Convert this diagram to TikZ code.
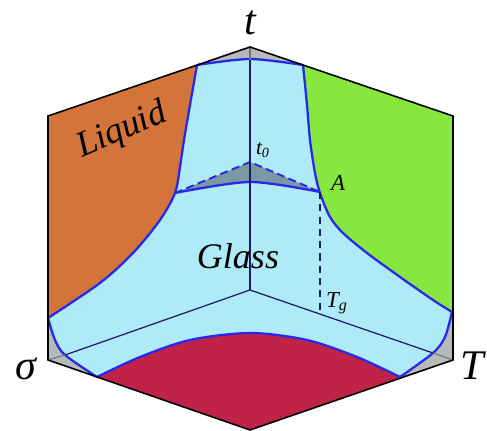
\documentclass[tikz,border=0pt]{standalone}
\usepackage{fontspec}
\setmainfont{Liberation Serif}
\usepackage{xcolor}
\usetikzlibrary{calc}
\definecolor{liquidc}{RGB}{211,116,58}
\definecolor{solidc}{RGB}{134,232,62}
\definecolor{redc}{RGB}{192,34,72}
\definecolor{glassc}{RGB}{174,234,248}
\definecolor{bluec}{RGB}{40,40,235}
\definecolor{cornerc}{RGB}{182,186,186}
\definecolor{slatec}{RGB}{122,152,162}
\definecolor{axisc}{RGB}{25,30,100}
\tikzset{
  edge/.style     = {draw = black, line width = 0.9pt, line join = miter},
  bound/.style    = {draw = bluec, line width = 1.3pt, line join = round},
  axisline/.style = {draw = axisc, line width = 0.7pt},
  tipline/.style  = {draw = black!55, line width = 0.6pt},
  biglab/.style   = {inner sep = 0pt, font = \itshape\fontsize{24}{28}\selectfont},
  midlab/.style   = {inner sep = 0pt, font = \itshape\fontsize{20.5}{24}\selectfont},
  smalllab/.style = {inner sep = 0pt, font = \itshape\fontsize{13}{15}\selectfont}
}

\begin{document}
\begin{tikzpicture}[x=0.02cm, y=-0.02cm]
\useasboundingbox (0,0) rectangle (487,431);

% cube corners
\coordinate (O)  at (250,290);
\coordinate (tt) at (250,47);
\coordinate (ss) at (48,360);
\coordinate (TT) at (453,360);
\coordinate (tl) at (48,116);
\coordinate (tr) at (453,116);
\coordinate (bt) at (250,430);

% three back faces
\fill[liquidc] (O) -- (tt) -- (tl) -- (ss) -- cycle;
\fill[solidc] (O) -- (tt) -- (tr) -- (TT) -- cycle;
\fill[redc] (O) -- (ss) -- (bt) -- (TT) -- cycle;

% gray corners
\fill[cornerc] (197,65) -- (tt) -- (303,65) -- cycle;
\fill[cornerc] (48,318) -- (ss) -- (97,377) -- cycle;
\fill[cornerc] (452,312) -- (TT) -- (400,377) -- cycle;

% glass surface
\filldraw[fill = glassc, bound]
  plot[smooth] coordinates {(197,65) (250,59) (303,65)}
  -- plot[smooth] coordinates {(303,65) (307,105) (310,140) (315,173) (320,193) (330,217) (343,233) (367,253) (400,277) (433,300) (452,312)}
  -- plot[smooth] coordinates {(452,312) (445,337) (433,353) (400,377)}
  -- plot[smooth] coordinates {(400,377) (357,357) (307,340) (250,333) (190,340) (140,357) (97,377)}
  -- plot[smooth] coordinates {(97,377) (65,355) (55,340) (48,318)}
  -- plot[smooth] coordinates {(48,318) (100,283) (133,253) (160,220) (175,193) (180,167) (184,140) (190,105) (197,65)}
  -- cycle;

% cut at t0
\coordinate (tz) at (250,162);
\coordinate (A)  at (320,192);
\coordinate (B)  at (175,193);
\fill[slatec] (B) -- (tz) -- (A) -- plot[smooth] coordinates {(320,192) (250,182) (175,193)} -- cycle;
\draw[bound] plot[smooth] coordinates {(175,193) (250,182) (320,192)};
\draw[bound, line width = 1.1pt, dash pattern = on 4.5pt off 2.5pt] (B) -- (tz) -- (A);

% axes
\coordinate (tE) at (250,60);
\coordinate (sE) at (65,355);
\coordinate (TE) at (433,353);
\draw[axisline] (O) -- (tE);
\draw[axisline] (O) -- (sE);
\draw[axisline] (O) -- (TE);
\draw[tipline] (tE) -- (tt);
\draw[tipline] (sE) -- (ss);
\draw[tipline] (TE) -- (TT);

% Tg marker
\coordinate (G) at ($(O)!0.3448!(TT)$);
\draw[axisline, dash pattern = on 4pt off 3pt] (A) -- (320,314);

% outline
\draw[edge] (tl) -- (tt) -- (tr) -- (TT) -- (bt) -- (ss) -- cycle;

% labels
\node[biglab] (tlab) at (250,23) {t};
\node[biglab] (slab) at (26,369) {σ};
\node[biglab] (Tlab) at (472,366) {T};
\node[midlab, rotate = 23] (liq) at (122,131) {Liquid};
\node[midlab] (gls) at (238,256) {Glass};
\node[smalllab, font = \itshape\fontsize{12}{14}\selectfont] (t0lab) at (263,150) {t\textsubscript{0}};
\node[smalllab] (Alab) at (338,183) {A};
\node[smalllab] (Tglab) at (337,303) {T\textsubscript{g}};

\end{tikzpicture}
\end{document}
